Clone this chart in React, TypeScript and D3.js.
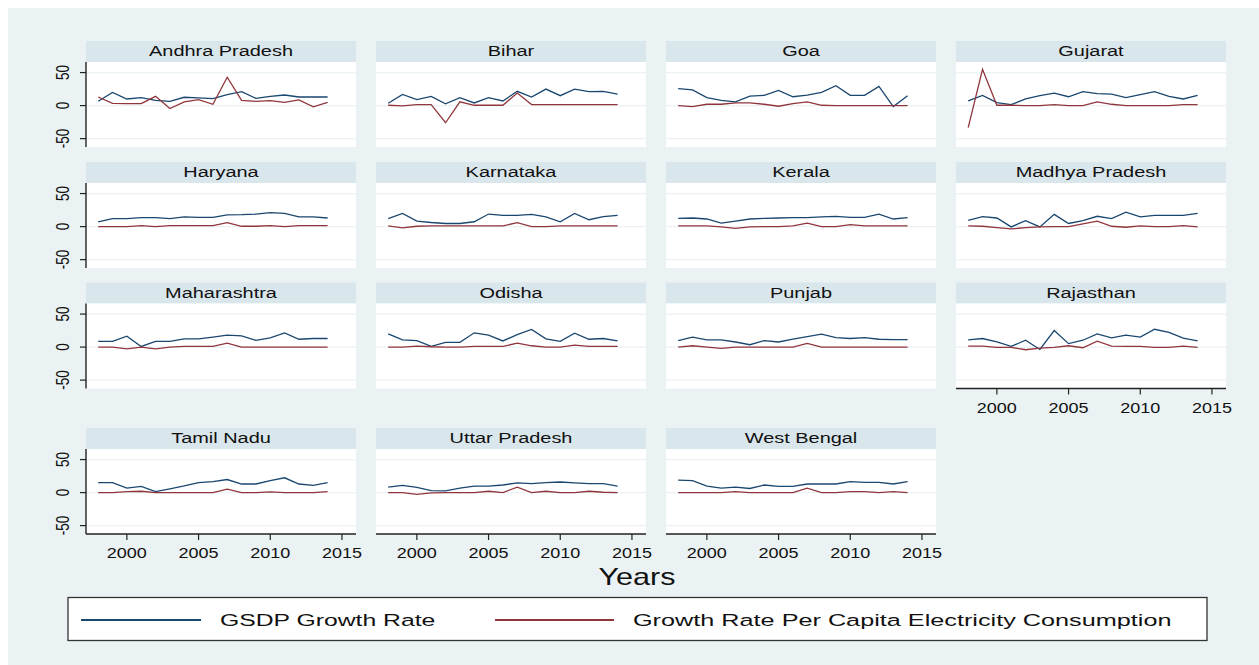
import React from "react";
import * as d3 from "d3";

const years = [1998, 1999, 2000, 2001, 2002, 2003, 2004, 2005, 2006, 2007, 2008, 2009, 2010, 2011, 2012, 2013, 2014];
const states = [
  "Andhra Pradesh", "Bihar", "Goa", "Gujarat",
  "Haryana", "Karnataka", "Kerala", "Madhya Pradesh",
  "Maharashtra", "Odisha", "Punjab", "Rajasthan",
  "Tamil Nadu", "Uttar Pradesh", "West Bengal",
];
const gsdpGrowth = [
  [6.5, 20, 10, 12, 8, 6.5, 12.6, 11.6, 10.6, 16.7, 21, 11, 14, 16, 13, 13, 13],
  [3.6, 17, 9, 14, 2.6, 12, 4, 12, 7, 21.6, 13, 25, 15, 25, 21, 21.6, 17.5],
  [25.8, 23.7, 12, 8, 5.7, 14.4, 15.5, 23, 13.4, 16, 20, 30, 15.5, 15.5, 29, -1.5, 15],
  [7, 15.5, 4.6, 1.5, 10, 15, 19, 13.4, 21, 18, 17.5, 12, 16.5, 21, 14, 10, 15.5],
  [7.3, 12, 12, 13.5, 13.5, 12, 14.6, 14, 14, 17.7, 18, 18.8, 21, 20, 14.6, 14.6, 13],
  [12, 20, 8.3, 6.2, 4.7, 4.7, 7.3, 19, 17, 17, 18.5, 14.6, 7.3, 20, 10.4, 15, 17],
  [12.5, 13, 11.5, 5.2, 8.3, 11.5, 12.5, 13, 13.5, 13.5, 14.6, 15.6, 14, 14, 18.8, 11.5, 13.5],
  [9.4, 15, 13, -0.5, 9, -0.5, 18.5, 4.7, 9, 15.6, 12, 21.9, 14.6, 17, 17, 17, 20],
  [8.8, 8.8, 16.5, 1, 8.8, 8.8, 12.4, 12.4, 15, 18, 17, 10.3, 14, 21.6, 11.9, 13, 13],
  [20, 10.8, 9.8, 1, 7.2, 7.2, 21.6, 18, 9.3, 19, 26.8, 12.4, 8.8, 21, 11.9, 13, 9.3],
  [9.8, 15, 10.8, 10.8, 7.7, 3.6, 9.8, 7.7, 11.9, 16, 19.6, 14.4, 13, 14.4, 11.9, 11.3, 11.3],
  [11, 13, 7.8, 1, 10.4, -3.6, 25, 5.2, 10.4, 20, 14, 18, 15, 27, 22.4, 13.5, 9.4],
  [15, 15, 6.8, 9.4, 1.6, 5.7, 10, 15, 16.7, 19.8, 13, 13, 18.2, 22.4, 13, 11, 15],
  [8.3, 11, 7.8, 3, 2.6, 6.8, 9.9, 9.9, 11.5, 14.6, 13.5, 15, 16, 14.6, 13.5, 13.5, 9.9],
  [18.8, 18.2, 9.9, 6.8, 8.3, 6.2, 11.5, 9.4, 9.4, 13, 13, 13, 16.7, 15.6, 15.6, 13, 16.7],
];
const elecGrowth = [
  [13, 3.5, 3, 3, 14, -4.5, 5.5, 9, 2, 43, 8, 6.5, 7.5, 5, 8.5, -2, 5],
  [0.5, -0.5, 1.5, 1.5, -26, 5.7, 0.5, 0.5, 0.5, 19, 1.5, 1.5, 1.5, 1.5, 1.5, 1.5, 1.5],
  [0, -1.5, 2, 2, 4, 4, 2, -1, 3, 5.7, 0.5, 0, 0, 0, 0, 0, 0],
  [-33.5, 55, 0.5, 0.5, 0, 0, 1.5, 0, 0, 5.7, 2, 0, 0, 0, 0, 1.5, 1.5],
  [0, 0, 0, 1.5, 0, 1.5, 1.5, 1.5, 1.5, 6, 0.5, 0.5, 1.5, 0, 1.5, 1.5, 1.5],
  [1, -2, 0.5, 1, 1, 1, 1, 1, 1, 6, 0, 0, 1, 1, 1, 1, 1],
  [1, 1, 1, -0.5, -2.6, -0.5, 0, 0, 1, 5.2, 0, 0, 3, 1, 1, 1, 1],
  [1, 0.5, -1.5, -3.6, -1.5, -0.5, 0, 0, 4, 8.3, 0.5, -1, 1, 0, 0, 1.5, -0.5],
  [0, 0, -2.6, 0, -2.6, 0, 1, 1, 1, 6, 0, 0, 0, 0, 0, 0, 0],
  [0, 0, 1.5, 0.5, 0, 0, 1, 1, 1, 6, 2, 0, 0, 3, 1, 1, 1],
  [0, 2, 0, -2, 0, 0, 0, 0, 0, 5.5, 0, 0, 0, 0, 0, 0, 0],
  [1.5, 1.5, -0.5, -0.5, -4, -1.5, -0.5, 2, -1, 8.9, 1.5, 1, 1, -0.5, -0.5, 1.5, -0.5],
  [0, 0, 1.5, 2, 0, 0, 0, 0, 0, 5.2, 0, 0, 1, 0, 0, 0, 1.5],
  [0, 0, -2.6, -0.5, 0, 0, 0, 2, 0, 8.3, 0, 2, 0, 0, 2, 0.5, 0],
  [0, 0, 0, 0, 1.5, 0, 0, 0, 0, 6.8, 0, 0, 1.5, 1.5, 0, 1.5, 0],
];
const yTicks = [-50, 0, 50];
const xTicks = [2000, 2005, 2010, 2015];
const seriesNames = ["GSDP Growth Rate", "Growth Rate Per Capita Electricity Consumption"];

const BG = "#EAF2F3";
const STRIP = "#D9E6EB";
const BLUE = "#1A476F";
const RED = "#90353B";
const FONT = "'Liberation Sans', Arial, Helvetica, sans-serif";

const colLeft = [86, 376, 666, 956];
const panelW = 270;
const rowTop = [62, 183, 303.5, 449];
const plotH = 85;
const stripH = 21;

function SText(props: {
  x: number; y: number; size: number; sx: number; anchor?: string; rotate?: boolean;
  children: React.ReactNode; weight?: string | number; dy?: string;
}) {
  const { x, y, size, sx, anchor = "middle", rotate = false, children, weight = "normal", dy } = props;
  return (
    <g transform={`translate(${x},${y}) scale(${sx},1)${rotate ? " rotate(-90)" : ""}`}>
      <text
        fontFamily={FONT}
        fontSize={size}
        fontWeight={weight}
        textAnchor={anchor}
        dy={dy}
        fill="#111"
      >
        {children}
      </text>
    </g>
  );
}

function Panel({ idx }: { idx: number }) {
  const row = Math.floor(idx / 4);
  const col = idx % 4;
  const left = colLeft[col];
  const top = rowTop[row];
  const x = d3.scaleLinear().domain([1997.15, 2015.98]).range([left, left + panelW]);
  const y = d3.scaleLinear().domain([-62.7, 66]).range([top + plotH, top]);
  const line = d3
    .line<number>()
    .x((_, i) => x(years[i]))
    .y((d) => y(d));
  const showX = row === 3 || idx === 11;
  const showY = col === 0;
  const bottom = top + plotH;
  return (
    <g>
      <rect x={left} y={top - stripH} width={panelW} height={stripH} fill={STRIP} />
      <SText x={left + panelW / 2} y={top - 6} size={15} sx={1.33}>
        {states[idx]}
      </SText>
      <rect x={left} y={top} width={panelW} height={plotH} fill="#fff" />
      {yTicks.map((t) => (
        <line key={t} x1={left} x2={left + panelW} y1={y(t)} y2={y(t)} stroke={BG} strokeWidth={1.2} />
      ))}
      <path d={line(gsdpGrowth[idx]) || ""} fill="none" stroke={BLUE} strokeWidth={1.3} />
      <path d={line(elecGrowth[idx]) || ""} fill="none" stroke={RED} strokeWidth={1.3} />
      {showY && (
        <g>
          <line x1={left} x2={left} y1={top} y2={bottom} stroke="#222" strokeWidth={1.4} />
          {yTicks.map((t) => (
            <g key={t}>
              <line x1={left - 6} x2={left} y1={y(t)} y2={y(t)} stroke="#222" strokeWidth={1.2} />
              <SText x={62.5} y={y(t)} size={13.5} sx={1.35} rotate dy="0.36em">
                {String(t)}
              </SText>
            </g>
          ))}
        </g>
      )}
      {showX && (
        <g>
          <line x1={left} x2={left + panelW} y1={bottom} y2={bottom} stroke="#222" strokeWidth={1.4} />
          {xTicks.map((t) => (
            <g key={t}>
              <line x1={x(t)} x2={x(t)} y1={bottom} y2={bottom + 6} stroke="#222" strokeWidth={1.2} />
              <SText x={x(t)} y={bottom + 24} size={15} sx={1.2}>
                {String(t)}
              </SText>
            </g>
          ))}
        </g>
      )}
    </g>
  );
}

export default function App() {
  return (
    <svg
      width={1259}
      height={665}
      style={{ position: "absolute", left: 0, top: 0, display: "block" }}
    >
      <rect x={0} y={0} width={1259} height={665} fill="#fff" />
      <rect x={8} y={8} width={1251} height={657} fill={BG} />
      {states.map((_, i) => (
        <Panel key={i} idx={i} />
      ))}
      <SText x={637} y={585} size={23} sx={1.33} weight={500}>
        Years
      </SText>
      <rect x={68} y={597.5} width={1139} height={43} fill="#fff" stroke="#333" strokeWidth={1.3} />
      <line x1={81} x2={201} y1={620} y2={620} stroke={BLUE} strokeWidth={1.8} />
      <SText x={220} y={625.5} size={16.5} sx={1.5} anchor="start">
        {seriesNames[0]}
      </SText>
      <line x1={495} x2={614} y1={620} y2={620} stroke={RED} strokeWidth={1.8} />
      <SText x={633} y={625.5} size={16.5} sx={1.53} anchor="start">
        {seriesNames[1]}
      </SText>
    </svg>
  );
}
